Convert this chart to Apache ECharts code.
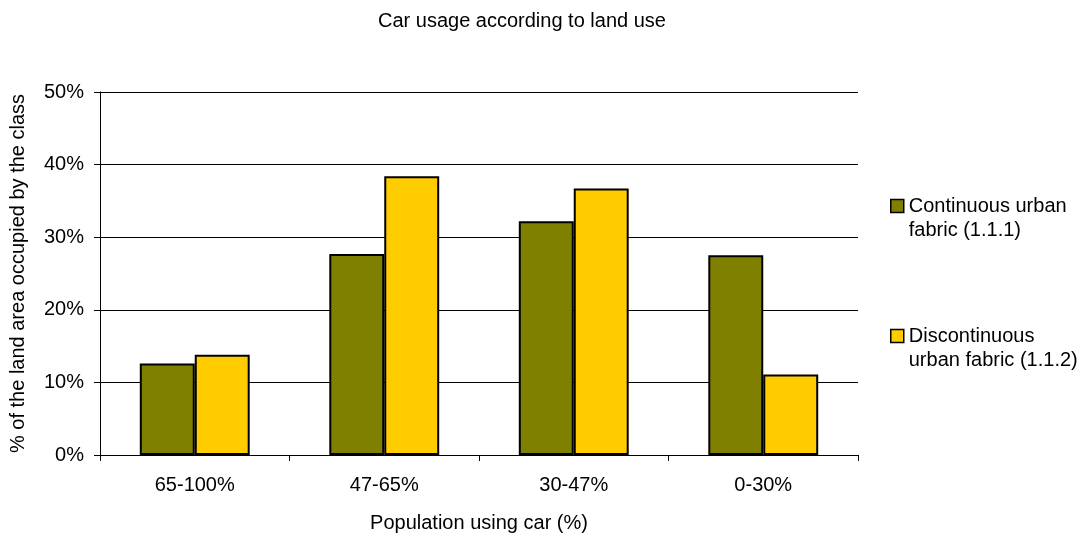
<!DOCTYPE html>
<html lang="en">
<head>
    <meta charset="UTF-8">
    <title>Car usage according to land use</title>
    <script src="https://cdn.jsdelivr.net/npm/echarts@6/dist/echarts.min.js"></script>
    <style>
        html, body { margin: 0; padding: 0; background: #fff; }
        #chart { width: 1085px; height: 538px; }
    </style>
</head>
<body>
<div id="chart"></div>
<script type="text/javascript">
    var categories = ['65-100%', '47-65%', '30-47%', '0-30%'];
    var continuousUrban = [12.6, 27.7, 32.2, 27.5];
    var discontinuousUrban = [13.8, 38.4, 36.7, 11.1];
    var seriesNames = ['Continuous urban\nfabric (1.1.1)', 'Discontinuous\nurban fabric (1.1.2)'];

    var font = 'Arial, "Liberation Sans", sans-serif';
    var myChart = echarts.init(document.getElementById('chart'));
    var option = {
        animation: false,
        title: {
            text: 'Car usage according to land use',
            left: 373,
            top: 6,
            textStyle: { fontFamily: font, fontSize: 20, fontWeight: 'normal', color: '#000' }
        },
        color: ['#808000', '#ffcc00'],
        legend: {
            orient: 'vertical',
            left: 885,
            top: 165,
            itemWidth: 13,
            itemHeight: 13,
            itemGap: 58,
            icon: 'rect',
            itemStyle: { borderColor: '#000', borderWidth: 1.5 },
            // blank first line keeps the square level with the first text line
            formatter: function (name) { return '\n' + name; },
            textStyle: { fontFamily: font, fontSize: 20, color: '#000', lineHeight: 24 },
            data: seriesNames
        },
        grid: {
            left: 100,
            right: 227,
            top: 92,
            bottom: 82,
            containLabel: false
        },
        xAxis: {
            type: 'category',
            data: categories,
            name: 'Population using car (%)',
            nameLocation: 'middle',
            nameGap: 58,
            nameTextStyle: { fontFamily: font, fontSize: 20, color: '#000' },
            axisLine: { lineStyle: { color: '#000', width: 1 } },
            axisTick: { show: true, length: 6, lineStyle: { color: '#000' } },
            axisLabel: { fontFamily: font, fontSize: 20, color: '#000', margin: 20 }
        },
        yAxis: {
            type: 'value',
            min: 0,
            max: 50,
            interval: 10,
            name: '% of the land area occupied by the class',
            nameLocation: 'middle',
            nameGap: 72,
            nameTextStyle: { fontFamily: font, fontSize: 20, color: '#000' },
            axisLine: { show: true, lineStyle: { color: '#000', width: 1 } },
            axisTick: { show: true, length: 6, lineStyle: { color: '#000' } },
            axisLabel: {
                fontFamily: font, fontSize: 20, color: '#000', margin: 16,
                formatter: '{value}%'
            },
            splitLine: { lineStyle: { color: '#000', width: 1 } }
        },
        series: [
            {
                name: seriesNames[0],
                type: 'bar',
                barGap: '0%',
                barCategoryGap: '42%',
                itemStyle: { borderColor: '#000', borderWidth: 2 },
                data: continuousUrban
            },
            {
                name: seriesNames[1],
                type: 'bar',
                barGap: '0%',
                barCategoryGap: '42%',
                itemStyle: { borderColor: '#000', borderWidth: 2 },
                data: discontinuousUrban
            }
        ]
    };
    myChart.setOption(option);
</script>
</body>
</html>
